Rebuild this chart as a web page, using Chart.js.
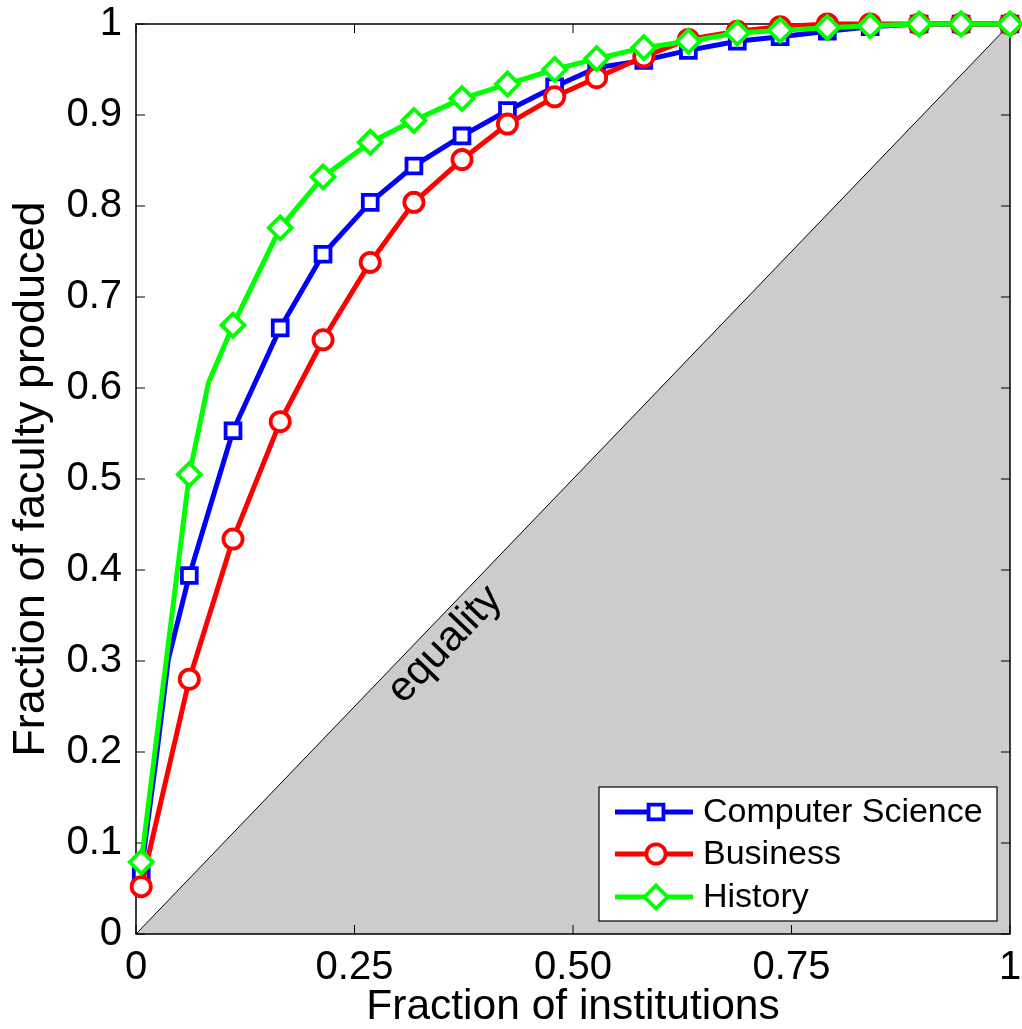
<!DOCTYPE html>
<html lang="en">
<head>
<meta charset="UTF-8" />
<title>Faculty production inequality</title>
<script src="https://cdn.jsdelivr.net/npm/chart.js"></script>
<style>
  html, body { margin: 0; padding: 0; background: #fff; }
  canvas { display: block; }
</style>
</head>
<body>
<canvas id="chart" width="1022" height="1029"></canvas>
<script>
// fraction of institutions at each marker
const instFrac = [0.006, 0.061, 0.111, 0.165, 0.214, 0.268, 0.318, 0.373, 0.425, 0.479,
                  0.527, 0.581, 0.632, 0.688, 0.737, 0.791, 0.840, 0.896, 0.944, 1.0];
const csFrac   = [0.069, 0.394, 0.553, 0.666, 0.747, 0.804, 0.844, 0.877, 0.905, 0.931,
                  0.952, 0.960, 0.971, 0.981, 0.986, 0.992, 0.997, 1.0, 1.0, 1.0];
const busFrac  = [0.052, 0.280, 0.434, 0.563, 0.653, 0.738, 0.804, 0.851, 0.890, 0.920,
                  0.941, 0.964, 0.983, 0.992, 0.997, 1.0, 1.0, 1.0, 1.0, 1.0];
const histFrac = [0.079, 0.505, 0.669, 0.776, 0.832, 0.870, 0.894, 0.918, 0.934, 0.950,
                  0.962, 0.974, 0.981, 0.990, 0.993, 0.996, 0.998, 1.0, 1.0, 1.0];
// curve vertices between markers (no marker drawn there)
const csBendX = [0.023, 0.037];
const csBendY = [0.192, 0.302];
const histBendX = [0.083];
const histBendY = [0.606];
// equality diagonal
const equalityX = [0, 1];
const equalityY = [0, 1];

const xTicks = [0, 0.25, 0.5, 0.75, 1];
const xTickLabels = ['0', '0.25', '0.50', '0.75', '1'];
const yTicks = [0, 0.1, 0.2, 0.3, 0.4, 0.5, 0.6, 0.7, 0.8, 0.9, 1];
const yTickLabels = ['0', '0.1', '0.2', '0.3', '0.4', '0.5', '0.6', '0.7', '0.8', '0.9', '1'];
const seriesNames = ['Computer Science', 'Business', 'History'];
const eqLabel = 'equality';
const eqLabelAt = 0.335;

const FONT = '"Liberation Sans", Arial, Helvetica, sans-serif';
const BLUE = '#0000ff', RED = '#ff0000', GREEN = '#00ff00';
const LINE_W = 5, MARK_W = 3.8;
const RADII = [10.5, 9.6, 11.5];

function buildPoints(xs, ys, bx, by) {
  const pts = xs.map((x, i) => ({ x: x, y: ys[i], m: true }));
  (bx || []).forEach((x, i) => pts.push({ x: x, y: by[i], m: false }));
  pts.sort((a, b) => a.x - b.x);
  return pts;
}

function series(label, color, style, radius, pts, order) {
  return {
    label: label,
    data: pts,
    showLine: true,
    fill: false,
    borderColor: color,
    borderWidth: LINE_W,
    borderJoinStyle: 'round',
    pointStyle: style,
    pointRadius: c => (c.raw && c.raw.m ? radius : 0),
    pointBorderWidth: MARK_W,
    pointBorderColor: color,
    pointBackgroundColor: '#fff',
    clip: false,
    order: order
  };
}

// no extra room for edge tick labels: keep the plot box where it is
function noPad(s) {
  s.paddingTop = 0; s.paddingBottom = 0; s.paddingLeft = 0; s.paddingRight = 0;
}

// marker shapes for the legend, same geometry as chart.js uses
function marker(ctx, style, x, y, r) {
  ctx.beginPath();
  if (style === 'rect') {
    const s = r * Math.SQRT1_2;
    ctx.rect(x - s, y - s, 2 * s, 2 * s);
  } else if (style === 'circle') {
    ctx.arc(x, y, r, 0, Math.PI * 2);
  } else {
    ctx.moveTo(x - r, y); ctx.lineTo(x, y - r); ctx.lineTo(x + r, y); ctx.lineTo(x, y + r);
    ctx.closePath();
  }
  ctx.fill();
  ctx.stroke();
}

const frameAndTicks = {
  id: 'frameAndTicks',
  afterDatasetDraw(chart, args) {
    if (args.index !== 3) return;
    const { ctx, chartArea: a, scales } = chart;
    ctx.save();
    // equality label along the diagonal
    const px = scales.x.getPixelForValue(eqLabelAt);
    const py = scales.y.getPixelForValue(eqLabelAt);
    const ang = Math.atan2(scales.y.getPixelForValue(1) - scales.y.getPixelForValue(0),
                           scales.x.getPixelForValue(1) - scales.x.getPixelForValue(0));
    ctx.translate(px, py);
    ctx.rotate(ang);
    ctx.fillStyle = '#000';
    ctx.font = '42px ' + FONT;
    ctx.textAlign = 'center';
    ctx.textBaseline = 'alphabetic';
    ctx.fillText(eqLabel, 0, 34);
    ctx.restore();

    ctx.save();
    ctx.strokeStyle = '#000';
    ctx.lineWidth = 1;
    const tl = 9;
    ctx.beginPath();
    xTicks.forEach(v => {
      const x = scales.x.getPixelForValue(v);
      ctx.moveTo(x, a.bottom); ctx.lineTo(x, a.bottom - tl);
      ctx.moveTo(x, a.top); ctx.lineTo(x, a.top + tl);
    });
    yTicks.forEach(v => {
      const y = scales.y.getPixelForValue(v);
      ctx.moveTo(a.left, y); ctx.lineTo(a.left + tl, y);
      ctx.moveTo(a.right, y); ctx.lineTo(a.right - tl, y);
    });
    ctx.stroke();
    ctx.lineWidth = 1.5;
    ctx.strokeRect(a.left, a.top, a.right - a.left, a.bottom - a.top);
    ctx.restore();
  },
  afterDraw(chart) {
    const { ctx, chartArea: a } = chart;
    const w = 398, h = 134;
    const r = a.right - 13, b = a.bottom - 13;
    const l = r - w, t = b - h;
    ctx.save();
    ctx.fillStyle = '#fff';
    ctx.fillRect(l, t, w, h);
    ctx.strokeStyle = '#000';
    ctx.lineWidth = 1.2;
    ctx.strokeRect(l, t, w, h);
    const colors = [BLUE, RED, GREEN];
    const styles = ['rect', 'circle', 'rectRot'];
    const rows = [25, 67, 110];
    ctx.font = '34px ' + FONT;
    ctx.textBaseline = 'middle';
    ctx.textAlign = 'left';
    rows.forEach((dy, i) => {
      const y = t + dy;
      ctx.strokeStyle = colors[i];
      ctx.lineWidth = LINE_W;
      ctx.beginPath();
      ctx.moveTo(l + 16, y); ctx.lineTo(l + 94, y);
      ctx.stroke();
      ctx.lineWidth = MARK_W;
      ctx.fillStyle = '#fff';
      marker(ctx, styles[i], l + 57, y, RADII[i]);
      ctx.fillStyle = '#000';
      ctx.fillText(seriesNames[i], l + 104, y + 1);
    });
    ctx.restore();
  }
};

new Chart(document.getElementById('chart'), {
  type: 'scatter',
  data: {
    datasets: [
      series(seriesNames[0], BLUE, 'rect', RADII[0], buildPoints(instFrac, csFrac, csBendX, csBendY), 3),
      series(seriesNames[1], RED, 'circle', RADII[1], buildPoints(instFrac, busFrac), 2),
      series(seriesNames[2], GREEN, 'rectRot', RADII[2], buildPoints(instFrac, histFrac, histBendX, histBendY), 1),
      {
        label: 'equality',
        data: equalityX.map((x, i) => ({ x: x, y: equalityY[i] })),
        showLine: true,
        borderColor: '#000',
        borderWidth: 1,
        backgroundColor: '#cccccc',
        fill: 'start',
        pointRadius: 0,
        order: 10
      }
    ]
  },
  options: {
    responsive: false,
    animation: false,
    events: [],
    layout: { autoPadding: false, padding: { top: 24, right: 12, left: 0, bottom: 0 } },
    plugins: { legend: { display: false }, tooltip: { enabled: false } },
    scales: {
      x: {
        type: 'linear', min: 0, max: 1,
        afterBuildTicks: s => { s.ticks = xTicks.map(v => ({ value: v })); },
        afterFit: s => { s.height = 95; noPad(s); },
        ticks: {
          callback: (v, i) => xTickLabels[i],
          font: { family: FONT, size: 40 }, color: '#000',
          padding: 10, maxRotation: 0, autoSkip: false
        },
        grid: { display: false, drawTicks: false },
        border: { display: false },
        title: {
          display: true, text: 'Fraction of institutions', color: '#000',
          font: { family: FONT, size: 42.5, lineHeight: 1 },
          padding: { top: 0, bottom: 0 }
        }
      },
      y: {
        type: 'linear', min: 0, max: 1,
        afterBuildTicks: s => { s.ticks = yTicks.map(v => ({ value: v })); },
        afterFit: s => { s.width = 136; noPad(s); },
        ticks: {
          callback: (v, i) => yTickLabels[i],
          font: { family: FONT, size: 40 }, color: '#000',
          padding: 14, autoSkip: false
        },
        grid: { display: false, drawTicks: false },
        border: { display: false },
        title: {
          display: true, text: 'Fraction of faculty produced', color: '#000',
          font: { family: FONT, size: 45, lineHeight: 1 },
          padding: { top: 9.5, bottom: 0 }
        }
      }
    }
  },
  plugins: [frameAndTicks]
});
</script>
</body>
</html>
